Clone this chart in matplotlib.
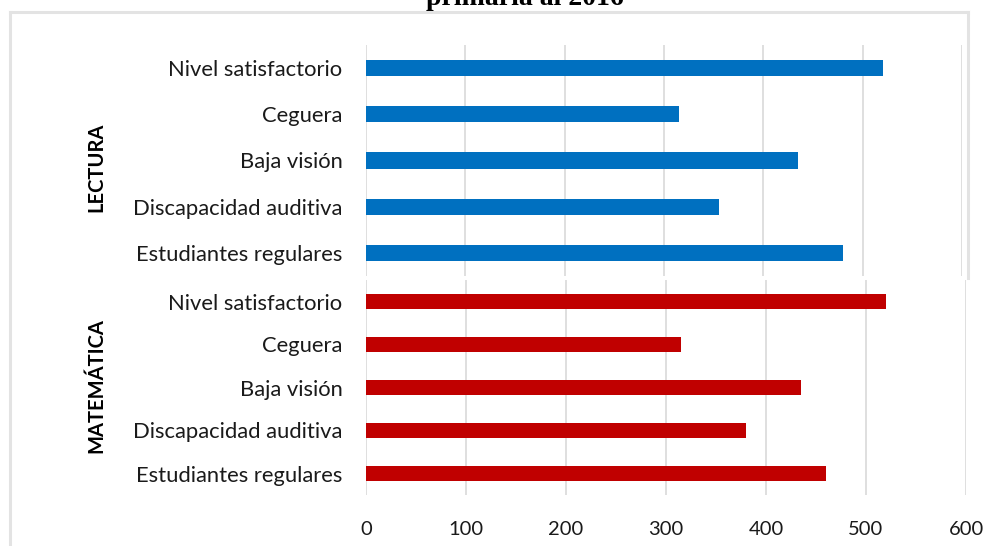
import matplotlib
matplotlib.use("Agg")
import matplotlib.pyplot as plt
from matplotlib.lines import Line2D

# ---- data ----
categories = ["Nivel satisfactorio", "Ceguera", "Baja visión",
              "Discapacidad auditiva", "Estudiantes regulares"]
lectura = [520, 315, 435, 355, 480]
matematica = [520, 315, 435, 380, 460]
group_labels = ["LECTURA", "MATEMÁTICA"]
x_ticks = [0, 100, 200, 300, 400, 500, 600]
title_text = "primaria al 2016"

W, H = 988, 546
fig = plt.figure(figsize=(W / 100, H / 100), dpi=100)
LABEL_FONT = "Lato"
GRID = "#D9D9D9"


def fx(px):
    return px / W


def fy(py):
    return 1 - py / H


def make_axes(x0, x1, y0, y1):
    return fig.add_axes([fx(x0), fy(y1), fx(x1) - fx(x0), fy(y0) - fy(y1)])


ax_top = make_axes(366, 962, 45, 276)
ax_bot = make_axes(366, 966, 280, 495)

for ax, vals, color, show_x in [(ax_top, lectura, "#0070C0", False),
                                (ax_bot, matematica, "#C00000", True)]:
    ypos = list(range(len(categories)))
    ax.barh(ypos, vals, height=0.35, color=color, zorder=3)
    ax.set_xlim(0, 600)
    ax.set_ylim(len(categories) - 0.5, -0.5)
    ax.set_yticks(ypos)
    ax.set_yticklabels(categories, fontsize=15.8, family=LABEL_FONT, color="#1a1a1a")
    ax.set_xticks(x_ticks)
    for xv in x_ticks:
        ax.axvline(xv, color=GRID, lw=1.2, zorder=1)
    for s in ax.spines.values():
        s.set_visible(False)
    ax.tick_params(axis="y", length=0, pad=17)
    ax.tick_params(axis="x", length=0, pad=19)
    if show_x:
        ax.set_xticklabels([str(v) for v in x_ticks], fontsize=14.5,
                           family=LABEL_FONT, color="#1a1a1a")
    else:
        ax.set_xticklabels([])
    ax.set_facecolor("none")

fig.text(fx(96), fy(167), group_labels[0], rotation=90, ha="center", va="center",
         fontsize=14.5, fontweight="bold", family=LABEL_FONT, color="#000000")
fig.text(fx(96), fy(386), group_labels[1], rotation=90, ha="center", va="center",
         fontsize=14.5, fontweight="bold", family=LABEL_FONT, color="#000000")

# title (cropped at top, as in the reference)
fig.text(fx(525), fy(5), title_text, ha="center", va="baseline",
         fontsize=20, fontweight="bold", family="Liberation Serif", color="#000000")

# frame borders
BORDER = "#E3E3E3"
lw = 2.2
fig.add_artist(Line2D([fx(10), fx(968)], [fy(12), fy(12)], color=BORDER, lw=lw,
                      transform=fig.transFigure))
fig.add_artist(Line2D([fx(10), fx(10)], [fy(12), fy(546)], color=BORDER, lw=lw,
                      transform=fig.transFigure))
fig.add_artist(Line2D([fx(968), fx(968)], [fy(12), fy(278)], color=BORDER, lw=lw,
                      transform=fig.transFigure))

fig.savefig("out.png", dpi=100, facecolor="white")
